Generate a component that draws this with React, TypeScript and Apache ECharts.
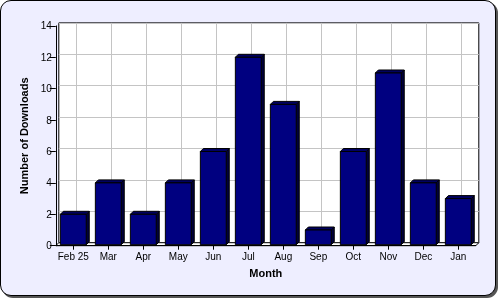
import React, { useEffect, useRef } from "react";
import * as echarts from "echarts";

const categories = ["Feb 25", "Mar", "Apr", "May", "Jun", "Jul", "Aug", "Sep", "Oct", "Nov", "Dec", "Jan"];
const downloads = [2, 4, 2, 4, 6, 12, 9, 1, 6, 11, 4, 3];
const yMin = 0;
const yMax = 14;
const yStep = 2;
const xTitle = "Month";
const yTitle = "Number of Downloads";

const FONT = "'Liberation Sans', Arial, sans-serif";
const G_LEFT = 55.8;
const G_TOP = 25.9;
const G_W = 420;
const G_H = 219.8;
const DEPTH = 3;

export default function App() {
  const ref = useRef<HTMLDivElement>(null);
  useEffect(() => {
    if (!ref.current) return;
    const chart = echarts.init(ref.current, null, { renderer: "svg" });
    const bx = G_LEFT, by = G_TOP + G_H;
    const catW = G_W / categories.length;
    chart.setOption({
      animation: false,
      backgroundColor: "transparent",
      textStyle: { fontFamily: FONT },
      grid: [
        { left: G_LEFT, top: G_TOP, width: G_W, height: G_H, containLabel: false },
        {
          left: G_LEFT + DEPTH, top: G_TOP - DEPTH, width: G_W, height: G_H,
          show: true, backgroundColor: "#ffffff", borderColor: "#000000", borderWidth: 1, z: 0,
        },
        {
          left: G_LEFT + DEPTH + catW / 2, top: G_TOP - DEPTH, width: G_W - catW, height: G_H,
          show: false,
        },
      ],
      xAxis: [
        {
          gridIndex: 0, type: "category", data: categories,
          axisLine: { show: true, lineStyle: { color: "#000", width: 1 } },
          axisTick: { show: true, alignWithLabel: true, length: 4, lineStyle: { color: "#000" } },
          axisLabel: { color: "#000", fontSize: 10, fontFamily: FONT, margin: 6, interval: 0 },
          splitLine: { show: false },
          name: xTitle, nameLocation: "middle", nameGap: 22,
          nameTextStyle: { color: "#000", fontSize: 11, fontWeight: "bold", fontFamily: FONT },
          z: 3,
        },
        {
          gridIndex: 1, type: "value", min: 0, max: 1,
          axisLine: { show: false }, axisTick: { show: false }, axisLabel: { show: false },
          splitLine: { show: false },
        },
        {
          gridIndex: 2, type: "value", min: 0, max: categories.length - 1, interval: 1,
          axisLine: { show: false }, axisTick: { show: false }, axisLabel: { show: false },
          splitLine: { show: true, lineStyle: { color: "#c4c4c4", width: 1 } },
        },
      ],
      yAxis: [
        {
          gridIndex: 0, type: "value", min: yMin, max: yMax, interval: yStep,
          axisLine: { show: true, lineStyle: { color: "#000", width: 1 } },
          axisTick: { show: true, length: 6, lineStyle: { color: "#000" } },
          axisLabel: { color: "#000", fontSize: 10, fontFamily: FONT, margin: 4 },
          splitLine: { show: false },
          name: yTitle, nameLocation: "middle", nameGap: 25,
          nameTextStyle: { color: "#000", fontSize: 11, fontWeight: "bold", fontFamily: FONT },
          z: 3,
        },
        {
          gridIndex: 1, type: "value", min: yMin, max: yMax, interval: yStep,
          axisLine: { show: false }, axisTick: { show: false }, axisLabel: { show: false },
          splitLine: { show: true, lineStyle: { color: "#c4c4c4", width: 1 } },
        },
        {
          gridIndex: 2, type: "value", min: yMin, max: yMax, interval: yStep,
          axisLine: { show: false }, axisTick: { show: false }, axisLabel: { show: false },
          splitLine: { show: false },
        },
      ],
      graphic: [
        {
          type: "polygon", z: 1, silent: true,
          shape: { points: [[bx, by], [bx + G_W, by], [bx + G_W + DEPTH, by - DEPTH], [bx + DEPTH, by - DEPTH]] },
          style: { fill: "#ffffff", stroke: "#000000", lineWidth: 1 },
        },
      ],
      series: [
        {
          type: "custom",
          xAxisIndex: 0, yAxisIndex: 0, z: 2,
          data: downloads.map((v, i) => [i, v]),
          renderItem: (params: any, api: any) => {
            const i = api.value(0);
            const v = api.value(1);
            const top = api.coord([i, v]);
            const base = api.coord([i, 0]);
            const w = api.size([1, 0])[0] * 0.74;
            const d = DEPTH;
            const x0 = top[0] - w / 2;
            const x1 = top[0] + w / 2;
            const yT = top[1];
            const yB = base[1] - 1;
            return {
              type: "group",
              children: [
                {
                  type: "polygon",
                  shape: { points: [[x1, yB], [x1, yT], [x1 + d, yT - d], [x1 + d, yB - d]] },
                  style: { fill: "#00003a", stroke: "#000", lineWidth: 1 },
                },
                {
                  type: "polygon",
                  shape: { points: [[x0, yT], [x0 + d, yT - d], [x1 + d, yT - d], [x1, yT]] },
                  style: { fill: "#000060", stroke: "#000", lineWidth: 1 },
                },
                {
                  type: "rect",
                  shape: { x: x0, y: yT, width: w, height: yB - yT },
                  style: { fill: "#000080", stroke: "#000", lineWidth: 1 },
                },
              ],
            };
          },
        },
      ],
    });
    return () => chart.dispose();
  }, []);

  return (
    <div style={{ position: "fixed", left: 0, top: 0, width: 500, height: 300 }}>
      <div
        style={{
          position: "absolute", left: 0, top: 0, width: 496, height: 296,
          boxSizing: "border-box", border: "1px solid #000", borderRadius: 11,
          background: "#eeeeff", boxShadow: "2px 2px 0 #555",
        }}
      />
      <div ref={ref} style={{ position: "absolute", left: 0, top: 0, width: 500, height: 300 }} />
    </div>
  );
}
